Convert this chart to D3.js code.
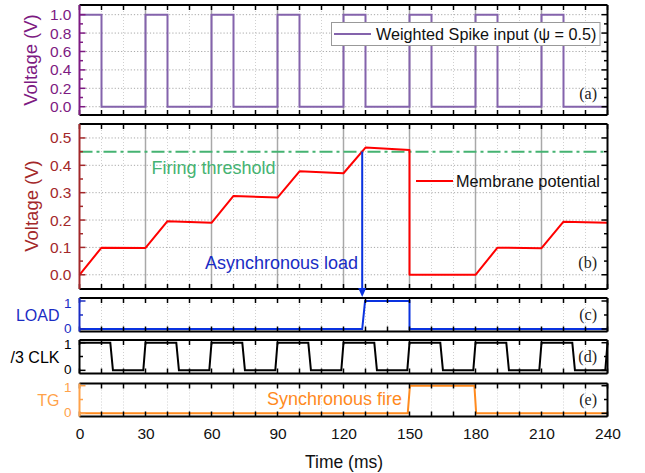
<!DOCTYPE html>
<html><head><meta charset="utf-8">
<script src="https://cdn.jsdelivr.net/npm/d3@7/dist/d3.min.js"></script>
<style>
body{margin:0;background:#fff;}
svg{display:block;font-family:Arial,"Liberation Sans",sans-serif;}
</style></head>
<body>
<svg id="chart" width="645" height="473"></svg>
<script>
// ---------- data ----------
const timeTicks = [0, 30, 60, 90, 120, 150, 180, 210, 240];
const timeMinor = [10, 20, 40, 50, 70, 80, 100, 110, 130, 140, 160, 170, 190, 200, 220, 230];

const spikeT = [0,10,10,30,30,40,40,60,60,70,70,90,90,100,100,120,120,130,130,150,150,160,160,180,180,190,190,210,210,220,220,240];
const spikeV = [1,1,0,0,1,1,0,0,1,1,0,0,1,1,0,0,1,1,0,0,1,1,0,0,1,1,0,0,1,1,0,0];

const memT = [0,10,30,40,60,70,90,100,120,130,150,150,180,190,210,220,240];
const memV = [0,0.099,0.098,0.196,0.19,0.288,0.282,0.378,0.371,0.465,0.456,0.0,0.0,0.099,0.097,0.194,0.19];

const threshold = 0.45;
const loadTime = 128.5;

const loadT = [0,128.5,129.8,150,150,240];
const loadV = [0,0,1,1,0,0];

const clkT = [0,14,15.2,29,30,44,45.2,59,60,74,75.2,89,90,104,105.2,119,120,134,135.2,149,150,164,165.2,179,180,194,195.2,209,210,224,225.2,239,240];
const clkV = [1,1,0,0,1,1,0,0,1,1,0,0,1,1,0,0,1,1,0,0,1,1,0,0,1,1,0,0,1,1,0,0,1];

const tgT = [0,149.2,150.2,179.5,180.3,240];
const tgV = [0,0,1,1,0,0];

const aTicks = [0,0.2,0.4,0.6,0.8,1.0];
const aMinor = [0.1,0.3,0.5,0.7,0.9];
const bTicks = [0,0.1,0.2,0.3,0.4,0.5];
const bMinor = [0.05,0.15,0.25,0.35,0.45];
const digTicks = [0,1];
const digMinor = [0.5];

// ---------- layout ----------
const svg = d3.select("#chart");
const x = d3.scaleLinear().domain([0,240]).range([79.5,607.5]);

const panels = [
  {id:"a", top:5, bottom:115, dom:[-0.09,1.105], ticks:aTicks, minor:aMinor, fmt:d3.format(".1f"),
   axisColor:"#7d1a82", hgrid:true, vmajor:true, label:"(a)", fs:15.5},
  {id:"b", top:124, bottom:289, dom:[-0.052,0.551], ticks:bTicks, minor:bMinor, fmt:d3.format(".1f"),
   axisColor:"#a3282a", hgrid:true, vmajor:true, label:"(b)", fs:15.5},
  {id:"c", top:298, bottom:331.5, dom:[-0.09,1.107], ticks:digTicks, minor:digMinor, fmt:d3.format("d"),
   axisColor:"#1a2cc4", hgrid:false, vmajor:false, label:"(c)", name:"LOAD", fs:13.5, dig:true},
  {id:"d", top:340, bottom:373.5, dom:[-0.115,1.098], ticks:digTicks, minor:digMinor, fmt:d3.format("d"),
   axisColor:"#000000", hgrid:false, vmajor:false, label:"(d)", name:"/3 CLK", fs:13.5, dig:true},
  {id:"e", top:383.5, bottom:416.5, dom:[-0.115,1.08], ticks:digTicks, minor:digMinor, fmt:d3.format("d"),
   axisColor:"#ffa24a", hgrid:false, vmajor:false, label:"(e)", name:"TG", fs:13.5, dig:true}
];
panels.forEach(p => { p.y = d3.scaleLinear().domain(p.dom).range([p.bottom,p.top]); });

const [x0,x1] = x.range();

panels.forEach(p => {
  const g = svg.append("g");
  g.selectAll(".vmin").data(timeMinor).join("line")
    .attr("x1",d=>x(d)).attr("x2",d=>x(d)).attr("y1",p.top).attr("y2",p.bottom)
    .attr("stroke","#d0d0d0").attr("stroke-width",1).attr("stroke-dasharray","1,2");
  if (p.vmajor) {
    g.selectAll(".vmaj").data(timeTicks.slice(1,-1)).join("line")
      .attr("x1",d=>x(d)).attr("x2",d=>x(d)).attr("y1",p.top).attr("y2",p.bottom)
      .attr("stroke","#a8a8a8").attr("stroke-width",1.5);
  }
  if (p.hgrid) {
    g.selectAll(".hg").data(p.ticks).join("line")
      .attr("x1",x0).attr("x2",x1).attr("y1",d=>p.y(d)).attr("y2",d=>p.y(d))
      .attr("stroke","#a8a8a8").attr("stroke-width",1).attr("stroke-dasharray","1.2,2");
  }
  p.g = g;
});

// ---------- data lines ----------
const line = (T,V,ys) => d3.line().x((d,i)=>x(T[i])).y((d,i)=>ys(V[i]))(T);

const pa = panels[0], pb = panels[1], pc = panels[2], pd = panels[3], pe = panels[4];

pa.g.append("path").attr("d",line(spikeT,spikeV,pa.y)).attr("fill","none")
  .attr("stroke","#8463ac").attr("stroke-width",2);

pb.g.append("line").attr("x1",x0).attr("x2",x1).attr("y1",pb.y(threshold)).attr("y2",pb.y(threshold))
  .attr("stroke","#45b372").attr("stroke-width",2).attr("stroke-dasharray","13,4,3,4");
pb.g.append("path").attr("d",line(memT,memV,pb.y)).attr("fill","none")
  .attr("stroke","#ff0000").attr("stroke-width",2).attr("stroke-linejoin","round");

pc.g.append("path").attr("d",line(loadT,loadV,pc.y)).attr("fill","none")
  .attr("stroke","#0a32e0").attr("stroke-width",2);
pd.g.append("path").attr("d",line(clkT,clkV,pd.y)).attr("fill","none")
  .attr("stroke","#000").attr("stroke-width",2);
pe.g.append("path").attr("d",line(tgT,tgV,pe.y)).attr("fill","none")
  .attr("stroke","#ff8a1e").attr("stroke-width",2);

// ---------- frames & ticks ----------
panels.forEach(p => {
  const g = svg.append("g");
  const allX = timeTicks.concat(timeMinor);
  g.selectAll(".tt").data(allX).join("line")
    .attr("x1",d=>x(d)).attr("x2",d=>x(d)).attr("y1",p.top).attr("y2",p.top+5)
    .attr("stroke","#000").attr("stroke-width",1.5);
  g.selectAll(".tb").data(allX).join("line")
    .attr("x1",d=>x(d)).attr("x2",d=>x(d)).attr("y1",p.bottom).attr("y2",p.bottom-5)
    .attr("stroke","#000").attr("stroke-width",1.5);
  const yt = p.ticks.map(v=>({v,len:6})).concat(p.minor.map(v=>({v,len:3.5})));
  g.selectAll(".yl").data(yt).join("line")
    .attr("x1",x0).attr("x2",d=>x0+d.len).attr("y1",d=>p.y(d.v)).attr("y2",d=>p.y(d.v))
    .attr("stroke",p.axisColor).attr("stroke-width",1.5);
  g.selectAll(".yr").data(yt).join("line")
    .attr("x1",x1).attr("x2",d=>x1-d.len).attr("y1",d=>p.y(d.v)).attr("y2",d=>p.y(d.v))
    .attr("stroke","#000").attr("stroke-width",1.5);
  g.append("line").attr("x1",x0).attr("x2",x1).attr("y1",p.top).attr("y2",p.top).attr("stroke","#000").attr("stroke-width",2);
  g.append("line").attr("x1",x0).attr("x2",x1).attr("y1",p.bottom).attr("y2",p.bottom).attr("stroke","#000").attr("stroke-width",2);
  g.append("line").attr("x1",x1).attr("x2",x1).attr("y1",p.top).attr("y2",p.bottom).attr("stroke","#000").attr("stroke-width",2);
  g.append("line").attr("x1",x0).attr("x2",x0).attr("y1",p.top).attr("y2",p.bottom).attr("stroke",p.axisColor).attr("stroke-width",2);
  const ax = d3.axisLeft(p.y).tickValues(p.ticks).tickFormat(p.fmt).tickSize(0).tickPadding(8);
  const ag = g.append("g").attr("transform",`translate(${x0},0)`).call(ax);
  ag.select(".domain").remove();
  ag.selectAll("text").attr("fill",p.axisColor).attr("font-size",p.fs)
    .attr("font-family","Arial, 'Liberation Sans', sans-serif");
  if (p.dig) {
    ag.selectAll(".tick text").attr("dy",d=> d===1 ? "0.45em" : "0.25em");
  }
  g.append("text").attr("x",597).attr("y",(p.id==="a"?94:p.id==="b"?262.5:(p.top+p.bottom)/2)+5)
    .attr("text-anchor","end").attr("font-family","'Liberation Serif','Times New Roman',serif")
    .attr("font-size",16).attr("fill","#222").text(p.label);
  if (p.name) {
    g.append("text").attr("x",59.5).attr("y",(p.top+p.bottom)/2+6).attr("text-anchor","end")
      .attr("font-size",16).attr("fill",p.axisColor).text(p.name);
  }
});

// ---------- x axis labels ----------
const xa = d3.axisBottom(x).tickValues(timeTicks).tickSize(0).tickPadding(11);
const xg = svg.append("g").attr("transform",`translate(0,${pe.bottom})`).call(xa);
xg.select(".domain").remove();
xg.selectAll("text").attr("font-size",15.5).attr("fill","#111")
  .attr("font-family","Arial, 'Liberation Sans', sans-serif");
svg.append("text").attr("x",344).attr("y",468).attr("text-anchor","middle")
  .attr("font-size",17.5).attr("fill","#111").text("Time (ms)");

// ---------- y titles ----------
svg.append("text").attr("transform","translate(37,60) rotate(-90)").attr("text-anchor","middle")
  .attr("font-size",18.5).attr("fill",pa.axisColor).text("Voltage (V)");
svg.append("text").attr("transform","translate(38,206) rotate(-90)").attr("text-anchor","middle")
  .attr("font-size",18.5).attr("fill",pb.axisColor).text("Voltage (V)");

// ---------- legends ----------
svg.append("rect").attr("x",331.5).attr("y",22.5).attr("width",268.5).attr("height",23)
  .attr("fill","#fff").attr("stroke","#999").attr("stroke-width",1);
svg.append("line").attr("x1",334).attr("x2",371).attr("y1",34).attr("y2",34)
  .attr("stroke","#8463ac").attr("stroke-width",2);
svg.append("text").attr("x",376).attr("y",40).attr("font-size",16.2).attr("fill","#111")
  .text("Weighted Spike input (ψ = 0.5)");

svg.append("line").attr("x1",416).attr("x2",453).attr("y1",181).attr("y2",181)
  .attr("stroke","#ff0000").attr("stroke-width",2);
svg.append("text").attr("x",456).attr("y",187).attr("font-size",16.3).attr("fill","#111")
  .text("Membrane potential");

// ---------- annotations ----------
svg.append("text").attr("x",151.5).attr("y",174).attr("font-size",18).attr("fill","#45b372")
  .text("Firing threshold");
svg.append("text").attr("x",205).attr("y",269).attr("font-size",18).attr("fill","#1a2cc4")
  .text("Asynchronous load");
svg.append("text").attr("x",402).attr("y",405).attr("text-anchor","end").attr("font-size",18).attr("fill","#ff8a1e")
  .text("Synchronous fire");

const ax0 = x(loadTime);
svg.append("line").attr("x1",ax0).attr("x2",ax0).attr("y1",pb.y(threshold)).attr("y2",289)
  .attr("stroke","#0a32e0").attr("stroke-width",2);
svg.append("path").attr("d",`M${ax0-4},288 L${ax0+4},288 L${ax0},297 Z`).attr("fill","#0a32e0");
</script>
</body></html>
